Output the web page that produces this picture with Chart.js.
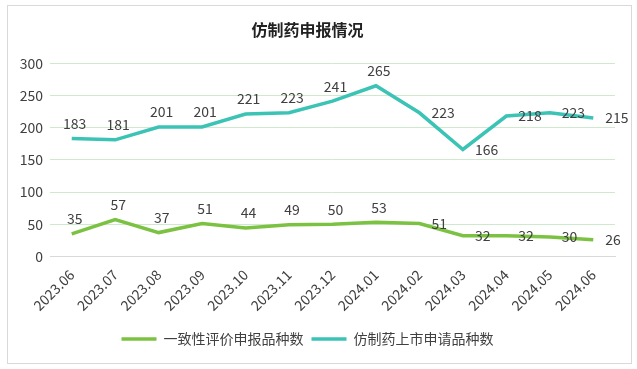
<!DOCTYPE html>
<html>
<head>
<meta charset="utf-8">
<script src="https://cdn.jsdelivr.net/npm/chart.js@4.4.1/dist/chart.umd.min.js"></script>
<style>
  html, body { margin: 0; padding: 0; background: #fff; }
  #wrap { width: 637px; height: 369px; position: relative; }
</style>
</head>
<body>
<div id="wrap"><canvas id="myChart"></canvas></div>
<script>
// data
var months = ["2023.06", "2023.07", "2023.08", "2023.09", "2023.10", "2023.11", "2023.12",
              "2024.01", "2024.02", "2024.03", "2024.04", "2024.05", "2024.06"];
var consistencyCounts = [35, 57, 37, 51, 44, 49, 50, 53, 51, 32, 32, 30, 26];
var genericCounts = [183, 181, 201, 201, 221, 223, 241, 265, 223, 166, 218, 223, 215];
var seriesNames = ["一致性评价申报品种数", "仿制药上市申请品种数"];
var yMin = 0, yMax = 300, yStep = 50;

var FONT = '"Noto Sans CJK SC", "Noto Sans", sans-serif';
var GREEN = "#7cc242";
var TEAL = "#3bc3b5";

// white card with thin grey frame
var frame = {
  id: "frame",
  beforeDraw: function (chart) {
    var ctx = chart.ctx;
    ctx.save();
    ctx.fillStyle = "#fff";
    ctx.fillRect(0, 0, chart.width, chart.height);
    ctx.strokeStyle = "#d9d9d9";
    ctx.lineWidth = 1;
    ctx.strokeRect(7.5, 5.5, 624, 358);
    ctx.restore();
  }
};

// value labels: above the point for the first months, to the right afterwards
var valueLabels = {
  id: "valueLabels",
  afterDatasetsDraw: function (chart) {
    var ctx = chart.ctx;
    ctx.save();
    ctx.font = "14px " + FONT;
    ctx.fillStyle = "#404040";
    ctx.textBaseline = "middle";
    chart.data.datasets.forEach(function (ds, di) {
      var meta = chart.getDatasetMeta(di);
      meta.data.forEach(function (pt, i) {
        var v = ds.data[i];
        if (i < 8) {
          ctx.textAlign = "center";
          ctx.fillText(v, pt.x + 3, pt.y - 15);
        } else {
          ctx.textAlign = "left";
          ctx.fillText(v, pt.x + 12, pt.y);
        }
      });
    });
    ctx.restore();
  }
};

var ctx = document.getElementById("myChart").getContext("2d");
var myChart = new Chart(ctx, {
  type: "line",
  data: {
    labels: months,
    datasets: [
      {
        label: seriesNames[0],
        data: consistencyCounts,
        borderColor: GREEN,
        backgroundColor: GREEN,
        borderWidth: 3.5,
        pointRadius: 0,
        tension: 0
      },
      {
        label: seriesNames[1],
        data: genericCounts,
        borderColor: TEAL,
        backgroundColor: TEAL,
        borderWidth: 3.5,
        pointRadius: 0,
        tension: 0
      }
    ]
  },
  options: {
    responsive: true,
    maintainAspectRatio: false,
    animation: false,
    layout: { padding: { left: 0, right: 22, top: 0, bottom: 13 } },
    plugins: {
      title: {
        display: true,
        text: "仿制药申报情况",
        color: "#222",
        font: { family: FONT, size: 16, weight: "bold" },
        padding: { top: 20, bottom: 24 }
      },
      legend: {
        position: "bottom",
        labels: {
          color: "#404040",
          font: { family: FONT, size: 14 },
          usePointStyle: true,
          pointStyle: "line",
          pointStyleWidth: 35,
          padding: 8
        }
      },
      tooltip: { enabled: false }
    },
    scales: {
      x: {
        offset: true,
        grid: { display: false },
        border: { color: "#d9d9d9" },
        afterFit: function (scale) { scale.height += 8; },
        ticks: {
          color: "#404040",
          font: { family: FONT, size: 14 },
          minRotation: 45,
          maxRotation: 45,
          padding: 2
        }
      },
      y: {
        min: yMin,
        max: yMax,
        afterFit: function (scale) { scale.width = 50; },
        border: { display: false },
        grid: {
          color: function (c) { return c.tick.value === 0 ? "#d9d9d9" : "#cfe9cf"; },
          drawTicks: false
        },
        ticks: {
          stepSize: yStep,
          color: "#404040",
          font: { family: FONT, size: 14 },
          padding: 7
        }
      }
    }
  },
  plugins: [frame, valueLabels]
});
</script>
</body>
</html>
